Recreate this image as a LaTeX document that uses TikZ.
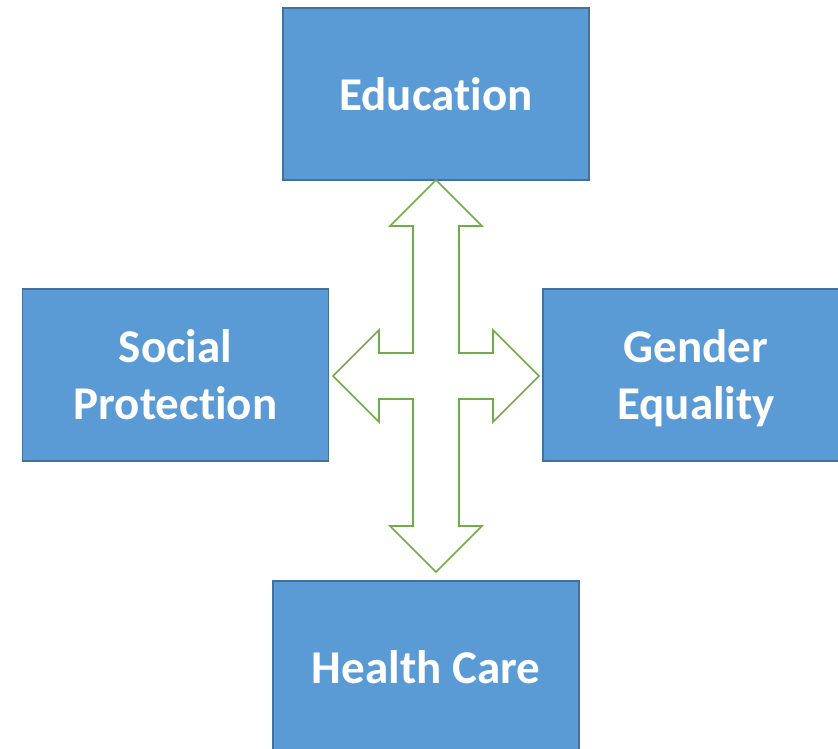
\documentclass[tikz,border=0pt]{standalone}
\usepackage{fontspec}
\setmainfont[Ligatures=CommonOff]{Carlito}
\usetikzlibrary{positioning}
\definecolor{boxblue}{HTML}{5B9BD5}
\definecolor{boxedge}{HTML}{41719C}
\definecolor{arrgreen}{HTML}{70AD47}
\tikzset{pbox/.style={draw=boxedge, line width=1.8pt, fill=boxblue, text=white, align=center, minimum width=306pt, minimum height=172pt, inner sep=0pt, text depth=0pt, font=\fontsize{47}{57}\selectfont\bfseries}}
\tikzset{xarrow/.style={draw=arrgreen, line width=1.6pt, fill=white, line join=miter}}
\begin{document}
\begin{tikzpicture}[x=1pt, y=-1pt]
			\clip (0,0) rectangle (838,749);
			\fill[white] (0,0) rectangle (838,749);
			%
			\node[pbox] (edu) at (436,94) {Education};
			\node[pbox] (soc) at (175.5,375) {Social\\Protection};
			\node[pbox] (gen) at (696,375) {Gender\\Equality};
			\node[pbox] (hlth) at (426,667) {Health Care};
			%
			\coordinate (hub) at (436,376);
			% four-way arrow between the boxes
			\draw[xarrow] (hub)
				++(0,-196) -- ++(46,46) -- ++(-23,0) -- ++(0,127)
				-- ++(34,0) -- ++(0,-23) -- ++(46,46) -- ++(-46,46) -- ++(0,-23)
				-- ++(-34,0) -- ++(0,127) -- ++(23,0) -- ++(-46,46) -- ++(-46,-46)
				-- ++(23,0) -- ++(0,-127) -- ++(-34,0) -- ++(0,23) -- ++(-46,-46)
				-- ++(46,-46) -- ++(0,23) -- ++(34,0) -- ++(0,-127) -- ++(-23,0)
				-- cycle;
		\end{tikzpicture}
\end{document}
